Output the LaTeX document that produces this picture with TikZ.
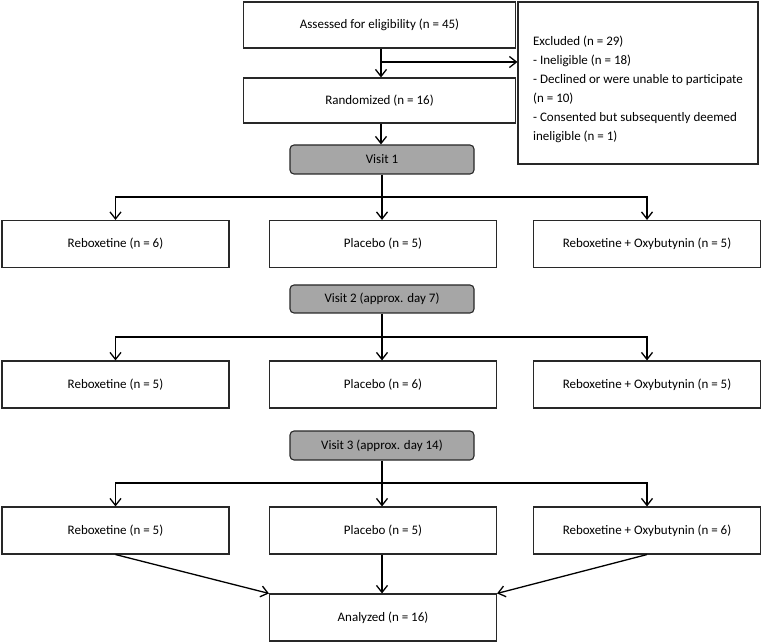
\documentclass[tikz,border=0pt]{standalone}
\usepackage{fontspec}
\setmainfont{Carlito}
\usetikzlibrary{arrows.meta}
\definecolor{visitfill}{RGB}{166,166,166}
\definecolor{edgecol}{RGB}{40,40,40}
\tikzset{
  box/.style={draw=edgecol, line width=1.1pt, minimum width=227pt, minimum height=47pt, inner sep=0pt, font=\fontsize{13pt}{15pt}\selectfont},
  topbox/.style={box, minimum width=272pt},
  visitbox/.style={draw=edgecol, line width=1.1pt, fill=visitfill, rounded corners=4pt, minimum width=184pt, minimum height=29pt, inner sep=0pt, font=\fontsize{13pt}{15pt}\selectfont},
  arr/.style={draw=black, line width=1.3pt, -{Straight Barb[length=7pt,width=11pt,line width=1.3pt]}},
  ln/.style={draw=black, line width=1.3pt}
}
\begin{document}
\begin{tikzpicture}[x=1pt,y=-1pt]
\useasboundingbox (0,0) rectangle (763,644);
% top
\node[topbox, minimum height=46pt] (assess) at (379.5,25) {Assessed for eligibility (n = 45)};
\node[topbox, minimum height=45pt] (rand) at (379.5,100.5) {Randomized (n = 16)};
\node[draw=edgecol, line width=1.1pt, minimum width=240pt, minimum height=162pt, inner sep=0pt, align=left, font=\fontsize{13pt}{19pt}\selectfont] (excl) at (638,83)
  {\rule{0pt}{22pt}Excluded (n = 29)\\- Ineligible (n = 18)\\- Declined or were unable to participate\\(n = 10)\\- Consented but subsequently deemed\\ineligible (n = 1)};
\coordinate (b0) at (381,62);
\draw[arr] (assess.south -| b0) -- (rand.north -| b0);
\draw[arr] (b0) -- (b0 -| excl.west);
% visit 1
\node[visitbox] (v1) at (382,159.5) {Visit 1};
\draw[arr] (rand.south -| b0) -- (b0 |- v1.north);
\coordinate (h1) at (382,197);
\node[box] (r1a) at (115.5,244) {Reboxetine (n = 6)};
\node[box] (r1b) at (383,244) {Placebo (n = 5)};
\node[box] (r1c) at (647,244) {Reboxetine + Oxybutynin (n = 5)};
\draw[ln] (v1.south) -- (h1);
\draw[arr] (h1) -| (r1a.north);
\draw[arr] (h1) -| (r1c.north);
\draw[arr] (h1) -- (h1 |- r1b.north);
% visit 2
\node[visitbox, minimum height=28pt] (v2) at (382,299) {Visit 2 (approx. day 7)};
\coordinate (h2) at (382,337);
\node[box] (r2a) at (115.5,384.5) {Reboxetine (n = 5)};
\node[box] (r2b) at (383,384.5) {Placebo (n = 6)};
\node[box] (r2c) at (647,384.5) {Reboxetine + Oxybutynin (n = 5)};
\draw[ln] (v2.south) -- (h2);
\draw[arr] (h2) -| (r2a.north);
\draw[arr] (h2) -| (r2c.north);
\draw[arr] (h2) -- (h2 |- r2b.north);
% visit 3
\node[visitbox] (v3) at (382,445.5) {Visit 3 (approx. day 14)};
\coordinate (h3) at (382,483);
\node[box] (r3a) at (115.5,530.5) {Reboxetine (n = 5)};
\node[box] (r3b) at (383,530.5) {Placebo (n = 5)};
\node[box] (r3c) at (647,530.5) {Reboxetine + Oxybutynin (n = 6)};
\draw[ln] (v3.south) -- (h3);
\draw[arr] (h3) -| (r3a.north);
\draw[arr] (h3) -| (r3c.north);
\draw[arr] (h3) -- (h3 |- r3b.north);
% analyzed
\node[box] (anal) at (383,617.5) {Analyzed (n = 16)};
\draw[arr] (r3a.south) -- (anal.north west);
\draw[arr] (r3b.south -| h3) -- (h3 |- anal.north);
\draw[arr] (r3c.south) -- (anal.north east);
\end{tikzpicture}
\end{document}
